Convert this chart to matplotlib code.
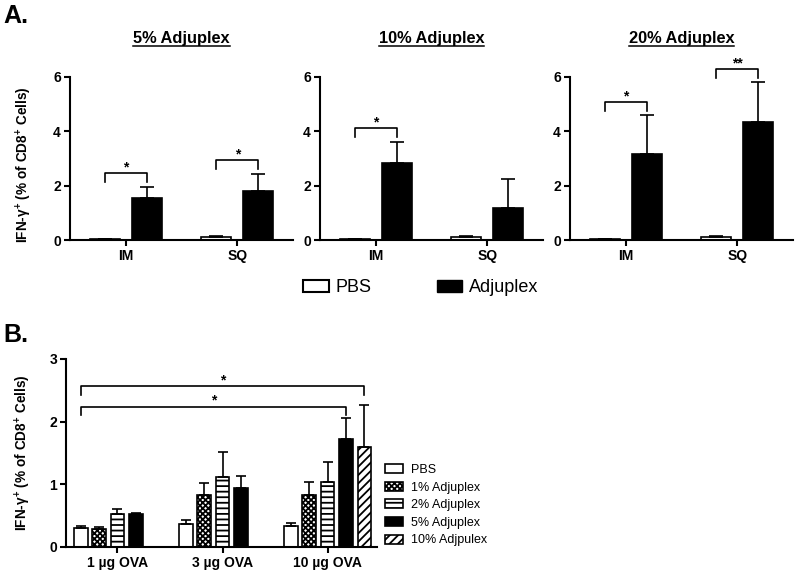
import numpy as np
import matplotlib.pyplot as plt
from matplotlib.patches import Patch
from matplotlib.lines import Line2D

plt.rcParams['font.family'] = ['Liberation Sans', 'DejaVu Sans']
plt.rcParams['font.weight'] = 'bold'
plt.rcParams['axes.labelweight'] = 'bold'
plt.rcParams['mathtext.fontset'] = 'custom'
plt.rcParams['mathtext.rm'] = 'Liberation Sans:bold'
plt.rcParams['mathtext.default'] = 'rm'
plt.rcParams['hatch.linewidth'] = 1.3

# ---- panel A data ----
routes = ['IM', 'SQ']
doses_a = ['5% Adjuplex', '10% Adjuplex', '20% Adjuplex']
pbs_mean = [[0.03, 0.10], [0.03, 0.10], [0.03, 0.10]]
pbs_err = [[0.0, 0.04], [0.0, 0.04], [0.0, 0.04]]
adj_mean = [[1.54, 1.81], [2.83, 1.18], [3.18, 4.33]]
adj_err = [[0.42, 0.63], [0.78, 1.07], [1.42, 1.47]]
sig_a_label = [['*', '*'], ['*', None], ['*', '**']]
sig_a_height = [[2.47, 2.95], [4.12, None], [5.08, 6.30]]

# ---- panel B data ----
ova = ['1 µg OVA', '3 µg OVA', '10 µg OVA']
treatments = ['PBS', '1% Adjuplex', '2% Adjuplex', '5% Adjuplex', '10% Adjpulex']
b_mean = [[0.30, 0.355, 0.33],
          [0.28, 0.82, 0.82],
          [0.52, 1.12, 1.04],
          [0.52, 0.93, 1.72],
          [np.nan, np.nan, 1.59]]
b_err = [[0.03, 0.065, 0.05],
         [0.03, 0.19, 0.22],
         [0.08, 0.40, 0.31],
         [0.015, 0.20, 0.33],
         [np.nan, np.nan, 0.67]]
b_fill = ['white', 'white', 'white', 'black', 'white']
b_hatch = [None, 'xxxxxx', '---', None, '////']
# brackets: (group, treatment) -> (group, treatment), height, label
sig_b = [((0, 0), (2, 4), 2.57, '*'),
         ((0, 0), (2, 3), 2.24, '*')]

W, H = 798, 570
fig = plt.figure(figsize=(W / 100, H / 100), dpi=100)


def px_axes(l, t, w, h):
    return fig.add_axes([l / W, 1 - (t + h) / H, w / W, h / H])


def style(ax):
    for s in ['top', 'right']:
        ax.spines[s].set_visible(False)
    for s in ['left', 'bottom']:
        ax.spines[s].set_linewidth(1.5)
    ax.tick_params(direction='out', length=4, width=1.5, labelsize=10, pad=2.5)


ylab = 'IFN-γ$^{+}$ (% of CD8$^{+}$ Cells)'
ek = dict(fmt='none', ecolor='black', elinewidth=1.2, capthick=1.2)

titles = []
off = 0.19
bw = 0.27
for i, left in enumerate([70, 320, 570]):
    ax = px_axes(left, 77, 223, 163)
    style(ax)
    x = np.arange(len(routes))
    ax.bar(x - off, pbs_mean[i], bw, color='white', edgecolor='black', lw=1.2)
    ax.bar(x + off, adj_mean[i], bw, color='black', edgecolor='black', lw=1.2)
    ax.errorbar(x - off, pbs_mean[i], yerr=[np.zeros(2), pbs_err[i]], capsize=5, **ek)
    ax.errorbar(x + off, adj_mean[i], yerr=[np.zeros(2), adj_err[i]], capsize=5, **ek)
    for j in range(len(routes)):
        lab = sig_a_label[i][j]
        if lab is None:
            continue
        h = sig_a_height[i][j]
        ax.plot([j - off, j - off, j + off, j + off], [h - 0.33, h, h, h - 0.33],
                color='black', lw=1.2, clip_on=False)
        ax.annotate(lab, (j, h), xytext=(0, 4), textcoords='offset points',
                    ha='center', va='center', fontsize=10, annotation_clip=False)
    ax.set_xlim(-0.5, 1.5)
    ax.set_ylim(0, 6)
    ax.set_yticks([0, 2, 4, 6])
    ax.set_xticks(x)
    ax.set_xticklabels(routes)
    if i == 0:
        ax.set_ylabel(ylab, fontsize=9.8)
        ax.yaxis.set_label_coords(-0.16, 0.46)
    cx = (left + 111.5) / W
    t = fig.text(cx, 1 - 43 / H, doses_a[i], ha='center', va='baseline', fontsize=11.8)
    titles.append(t)

fig.text(3 / W, 1 - 16 / H, 'A.', fontsize=18, va='center', ha='left')
fig.text(3 / W, 1 - 335 / H, 'B.', fontsize=18, va='center', ha='left')

fig.legend(handles=[Patch(fc='white', ec='black', lw=1.5), Patch(fc='black', ec='black')],
           labels=['PBS', 'Adjuplex'], ncol=2, loc='center',
           bbox_to_anchor=(421 / W, 1 - 288 / H), frameon=False,
           prop={'weight': 'normal', 'size': 13}, handlelength=1.4, handleheight=0.67,
           handletextpad=0.4, columnspacing=3.6, borderpad=0, borderaxespad=0)

# ---- panel B ----
axb = px_axes(66, 359, 311, 187.5)
style(axb)
xg = np.arange(len(ova))
slot = 0.175
bwb = 0.13
handles = []
for k in range(len(treatments)):
    vals = np.array(b_mean[k])
    errs = np.array(b_err[k])
    m = ~np.isnan(vals)
    xs = xg[m] + (k - 2) * slot
    bars = axb.bar(xs, vals[m], bwb, color=b_fill[k], edgecolor='black', lw=1.2,
                   hatch=b_hatch[k], label=treatments[k])
    axb.errorbar(xs, vals[m], yerr=[np.zeros(m.sum()), errs[m]], capsize=3.6, **ek)
    handles.append(bars)

for (g0, t0), (g1, t1), h, lab in sig_b:
    x0 = g0 + (t0 - 2) * slot
    x1 = g1 + (t1 - 2) * slot
    axb.plot([x0, x0, x1, x1], [h - 0.14, h, h, h - 0.14], color='black', lw=1.2,
             clip_on=False)
    axb.annotate(lab, ((x0 + x1) / 2, h), xytext=(0, 4), textcoords='offset points',
                 ha='center', va='center', fontsize=10, annotation_clip=False)

axb.set_xlim(-0.49, 2.47)
axb.set_ylim(0, 3)
axb.set_yticks([0, 1, 2, 3])
axb.set_xticks(xg)
axb.set_xticklabels(ova)
axb.set_ylabel(ylab, fontsize=9.8)
axb.yaxis.set_label_coords(-0.105, 0.5)

fig.legend(handles=handles, labels=treatments, loc='upper left',
           bbox_to_anchor=(385 / W, 1 - 464 / H), frameon=False,
           prop={'weight': 'normal', 'size': 9}, handlelength=1.45, handleheight=0.72,
           handletextpad=0.6, labelspacing=0.45, borderpad=0, borderaxespad=0)

# underline the panel A titles
fig.canvas.draw()
r = fig.canvas.get_renderer()
for t in titles:
    bb = t.get_window_extent(r)
    fig.add_artist(Line2D([bb.x0 / W, bb.x1 / W], [1 - 45.5 / H, 1 - 45.5 / H],
                          transform=fig.transFigure, color='black', lw=1.1))

fig.savefig('out.png', dpi=100)
